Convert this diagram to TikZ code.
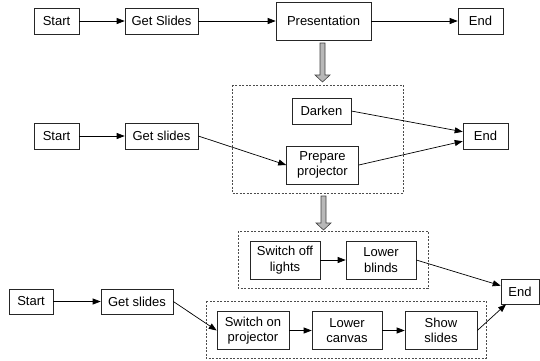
\documentclass[tikz,border=0pt]{standalone}
\usepackage{fontspec}
\setmainfont{Liberation Sans}
\usetikzlibrary{arrows.meta}
\tikzset{
	task/.style={draw=black!85, line width=0.6pt, minimum height=26pt, inner sep=1pt,
		align=center, font=\fontsize{13}{15.5}\selectfont},
	tall/.style={minimum height=38pt},
	flow/.style={line width=0.7pt, -{Triangle[length=8pt,width=6pt]}},
	group/.style={draw=black!70, line width=0.5pt, dash pattern=on 2pt off 1.5pt},
	refine/.style={draw=black!75, fill=black!28, line width=0.6pt}
}
\begin{document}
\begin{tikzpicture}[x=1pt, y=-1pt]
			\useasboundingbox (0,0) rectangle (540,360);
			% level 0
			\foreach \n/\x/\w/\t in {s1/56.5/45/Start, g1/161.5/73/Get Slides, e1/480.5/45/End}{
				\node[task, minimum width=\w] (\n) at (\x,21) {\t};
			}
			\node[task, tall, minimum width=95] (pr) at (323.5,21) {Presentation};
			\draw[flow] (s1) -- (g1);
			\draw[flow] (g1) -- (pr);
			\draw[flow] (pr) -- (e1);
			\draw[refine] (320,43) -- (325,43) -- (325,75) -- (330,75) -- (322.5,82)
				-- (315,75) -- (320,75) -- cycle;
			% level 1
			\draw[group] (232,85) rectangle (403,193);
			\foreach \n/\x/\w/\t in {s2/56.5/45/Start, g2/161.5/73/Get slides, e2/485.5/45/End}{
				\node[task, minimum width=\w] (\n) at (\x,136) {\t};
			}
			\node[task, minimum width=59] (dk) at (321.5,111) {Darken};
			\node[task, tall, minimum width=72] (pp) at (322.5,165) {Prepare\\projector};
			\draw[flow] (s2) -- (g2);
			\draw[flow] (g2.east) -- (pp.west);
			\draw[flow] (dk.east) -- (e2);
			\draw[flow] (pp.east) -- (e2);
			\draw[refine] (321,196) -- (326,196) -- (326,223) -- (331,223) -- (323.5,230)
				-- (316,223) -- (321,223) -- cycle;
			% level 2
			\draw[group] (238,231) rectangle (428,288);
			\draw[group] (206,301) rectangle (486,358);
			\foreach \n/\x/\w/\t in {s3/31/44/Start, g3/137/72/Get slides}{
				\node[task, minimum width=\w, minimum height=25] (\n) at (\x,301.5) {\t};
			}
			\node[task, minimum width=38, minimum height=25] (e3) at (520,291.5) {End};
			\foreach \n/\x/\w/\t in {sl/285/70/{Switch off\\lights}, lb/381/70/{Lower\\blinds}}{
				\node[task, tall, minimum width=\w] (\n) at (\x,260) {\t};
			}
			\foreach \n/\x/\w/\t in {so/253/72/{Switch on\\projector}, lc/347/70/{Lower\\canvas}, ss/441/72/{Show\\slides}}{
				\node[task, tall, minimum width=\w] (\n) at (\x,330.5) {\t};
			}
			\draw[flow] (s3) -- (g3);
			\draw[flow] (g3.east) -- (so.west);
			\draw[flow] (so) -- (lc);
			\draw[flow] (lc) -- (ss);
			\draw[flow] (sl) -- (lb);
			\draw[flow] (lb.east) -- (e3);
			\draw[flow] (ss.east) -- (e3);
		\end{tikzpicture}
\end{document}
